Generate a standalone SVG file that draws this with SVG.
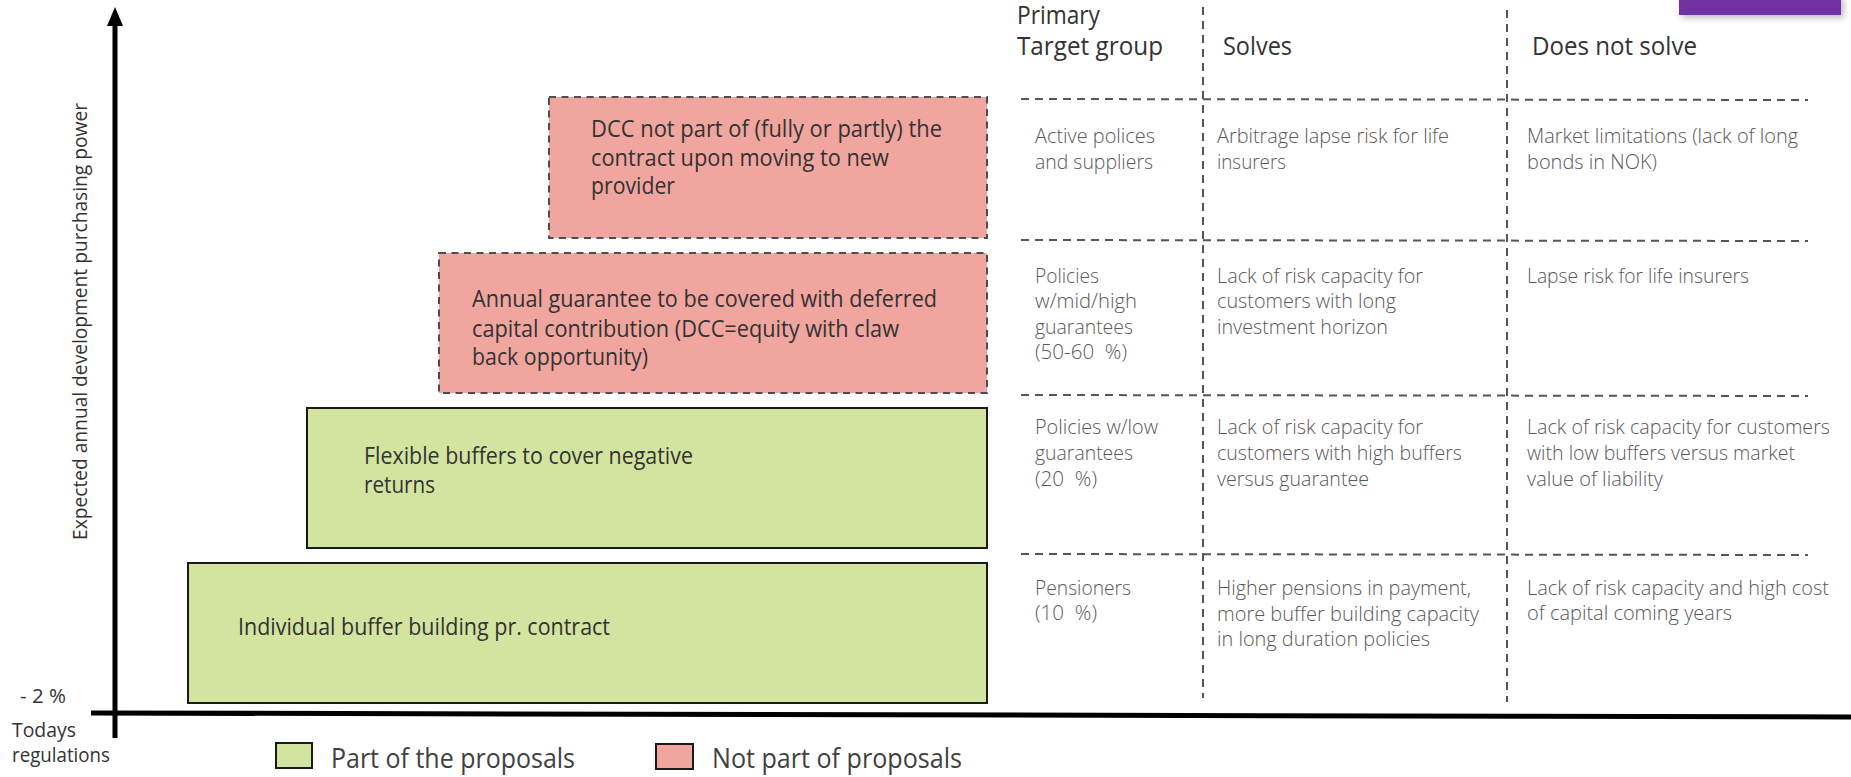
<svg xmlns="http://www.w3.org/2000/svg" width="1851" height="777" viewBox="0 0 1851 777">
  <style>
    .bt { font-family: "Open Sans", "Liberation Sans", sans-serif; font-size: 23px; fill: #333333; }
    .ct { font-family: "Open Sans", "Liberation Sans", sans-serif; font-weight: 300; font-size: 20px; fill: #595959; }
    .hd { font-family: "Open Sans", "Liberation Sans", sans-serif; font-size: 25px; fill: #333333; }
    .ax { font-family: "Open Sans", "Liberation Sans", sans-serif; font-size: 20px; fill: #333333; }
    .lg { font-family: "Open Sans", "Liberation Sans", sans-serif; font-size: 27px; fill: #404040; }
    .pink { fill: #F1A59F; stroke: #4d4d4d; stroke-width: 2; stroke-dasharray: 7 5.5; }
    .green { fill: #D3E4A0; stroke: #1a1a1a; stroke-width: 2; }
    .grid { stroke: #555555; stroke-width: 2; stroke-dasharray: 8 6; fill: none; }
  </style>
  <defs>
    <filter id="shadow" x="-10%" y="-50%" width="130%" height="250%">
      <feDropShadow dx="3" dy="3" stdDeviation="3" flood-color="#000" flood-opacity="0.25"/>
    </filter>
  </defs>

  <rect width="1851" height="777" fill="#ffffff"/>

  <!-- purple tab at top right -->
  <rect x="1679" y="-5" width="162" height="20" fill="#7030A0" filter="url(#shadow)"/>

  <!-- axes -->
  <g id="axes">
    <line x1="115" y1="22" x2="115" y2="738" stroke="#000" stroke-width="5"/>
    <polygon points="115,7 107,26 123,26" fill="#000"/>
    <line x1="91" y1="713" x2="1851" y2="717" stroke="#000" stroke-width="5"/>
    <text class="ax" transform="translate(87,540) rotate(-90)" textLength="437" lengthAdjust="spacingAndGlyphs">Expected annual development purchasing power</text>
    <text class="ax" x="20" y="703" textLength="46" lengthAdjust="spacingAndGlyphs">- 2 %</text>
    <text class="ax" x="12" y="737" textLength="64" lengthAdjust="spacingAndGlyphs">Todays</text>
    <text class="ax" x="12" y="762" textLength="98" lengthAdjust="spacingAndGlyphs">regulations</text>
  </g>

  <!-- measure boxes -->
  <g id="dcc-move">
    <rect class="pink" x="549" y="97" width="438" height="141"/>
    <text class="bt" x="591" y="137" textLength="351" lengthAdjust="spacingAndGlyphs">DCC not part of (fully or partly) the</text>
    <text class="bt" x="591" y="166" textLength="298" lengthAdjust="spacingAndGlyphs">contract upon moving to new</text>
    <text class="bt" x="591" y="194" textLength="84" lengthAdjust="spacingAndGlyphs">provider</text>
  </g>
  <g id="annual-guarantee">
    <rect class="pink" x="439" y="253" width="548" height="140"/>
    <text class="bt" x="472" y="307" textLength="465" lengthAdjust="spacingAndGlyphs">Annual guarantee to be covered with deferred</text>
    <text class="bt" x="472" y="337" textLength="427" lengthAdjust="spacingAndGlyphs">capital contribution (DCC=equity with claw</text>
    <text class="bt" x="472" y="365" textLength="176" lengthAdjust="spacingAndGlyphs">back opportunity)</text>
  </g>
  <g id="flexible-buffers">
    <rect class="green" x="307" y="408" width="680" height="140"/>
    <text class="bt" x="364" y="464" textLength="329" lengthAdjust="spacingAndGlyphs">Flexible buffers to cover negative</text>
    <text class="bt" x="364" y="493" textLength="71" lengthAdjust="spacingAndGlyphs">returns</text>
  </g>
  <g id="individual-buffer">
    <rect class="green" x="188" y="563" width="799" height="140"/>
    <text class="bt" x="238" y="635" textLength="372" lengthAdjust="spacingAndGlyphs">Individual buffer building pr. contract</text>
  </g>

  <!-- table grid -->
  <g id="table-grid">
    <line class="grid" x1="1203" y1="7" x2="1203" y2="698"/>
    <line class="grid" x1="1507" y1="10" x2="1507" y2="702"/>
    <line class="grid" x1="1021" y1="99" x2="1808" y2="100"/>
    <line class="grid" x1="1021" y1="240" x2="1808" y2="241"/>
    <line class="grid" x1="1021" y1="395" x2="1808" y2="396"/>
    <line class="grid" x1="1021" y1="554" x2="1808" y2="555"/>
  </g>

  <!-- table headers -->
  <g id="headers">
    <text class="hd" x="1017" y="24" textLength="83" lengthAdjust="spacingAndGlyphs">Primary</text>
    <text class="hd" x="1017" y="55" textLength="146" lengthAdjust="spacingAndGlyphs">Target group</text>
    <text class="hd" x="1223" y="55" textLength="69" lengthAdjust="spacingAndGlyphs">Solves</text>
    <text class="hd" x="1532" y="55" textLength="165" lengthAdjust="spacingAndGlyphs">Does not solve</text>
  </g>

  <!-- row 1 -->
  <g id="row-1">
    <text class="ct" x="1035" y="143" textLength="120" lengthAdjust="spacingAndGlyphs">Active polices</text>
    <text class="ct" x="1035" y="169" textLength="118" lengthAdjust="spacingAndGlyphs">and suppliers</text>
    <text class="ct" x="1217" y="143" textLength="232" lengthAdjust="spacingAndGlyphs">Arbitrage lapse risk for life</text>
    <text class="ct" x="1217" y="169" textLength="69" lengthAdjust="spacingAndGlyphs">insurers</text>
    <text class="ct" x="1527" y="143" textLength="271" lengthAdjust="spacingAndGlyphs">Market limitations (lack of long</text>
    <text class="ct" x="1527" y="169" textLength="130" lengthAdjust="spacingAndGlyphs">bonds in NOK)</text>
  </g>

  <!-- row 2 -->
  <g id="row-2">
    <text class="ct" x="1035" y="283" textLength="64" lengthAdjust="spacingAndGlyphs">Policies</text>
    <text class="ct" x="1035" y="308" textLength="102" lengthAdjust="spacingAndGlyphs">w/mid/high</text>
    <text class="ct" x="1035" y="334" textLength="98" lengthAdjust="spacingAndGlyphs">guarantees</text>
    <text class="ct" x="1035" y="359" textLength="92" lengthAdjust="spacingAndGlyphs">(50-60&#160; %)</text>
    <text class="ct" x="1217" y="283" textLength="206" lengthAdjust="spacingAndGlyphs">Lack of risk capacity for</text>
    <text class="ct" x="1217" y="308" textLength="179" lengthAdjust="spacingAndGlyphs">customers with long</text>
    <text class="ct" x="1217" y="334" textLength="171" lengthAdjust="spacingAndGlyphs">investment horizon</text>
    <text class="ct" x="1527" y="283" textLength="222" lengthAdjust="spacingAndGlyphs">Lapse risk for life insurers</text>
  </g>

  <!-- row 3 -->
  <g id="row-3">
    <text class="ct" x="1035" y="434" textLength="123" lengthAdjust="spacingAndGlyphs">Policies w/low</text>
    <text class="ct" x="1035" y="460" textLength="98" lengthAdjust="spacingAndGlyphs">guarantees</text>
    <text class="ct" x="1035" y="486" textLength="62" lengthAdjust="spacingAndGlyphs">(20&#160; %)</text>
    <text class="ct" x="1217" y="434" textLength="206" lengthAdjust="spacingAndGlyphs">Lack of risk capacity for</text>
    <text class="ct" x="1217" y="460" textLength="245" lengthAdjust="spacingAndGlyphs">customers with high buffers</text>
    <text class="ct" x="1217" y="486" textLength="152" lengthAdjust="spacingAndGlyphs">versus guarantee</text>
    <text class="ct" x="1527" y="434" textLength="303" lengthAdjust="spacingAndGlyphs">Lack of risk capacity for customers</text>
    <text class="ct" x="1527" y="460" textLength="268" lengthAdjust="spacingAndGlyphs">with low buffers versus market</text>
    <text class="ct" x="1527" y="486" textLength="136" lengthAdjust="spacingAndGlyphs">value of liability</text>
  </g>

  <!-- row 4 -->
  <g id="row-4">
    <text class="ct" x="1035" y="595" textLength="96" lengthAdjust="spacingAndGlyphs">Pensioners</text>
    <text class="ct" x="1035" y="620" textLength="62" lengthAdjust="spacingAndGlyphs">(10&#160; %)</text>
    <text class="ct" x="1217" y="595" textLength="254" lengthAdjust="spacingAndGlyphs">Higher pensions in payment,</text>
    <text class="ct" x="1217" y="621" textLength="262" lengthAdjust="spacingAndGlyphs">more buffer building capacity</text>
    <text class="ct" x="1217" y="646" textLength="213" lengthAdjust="spacingAndGlyphs">in long duration policies</text>
    <text class="ct" x="1527" y="595" textLength="302" lengthAdjust="spacingAndGlyphs">Lack of risk capacity and high cost</text>
    <text class="ct" x="1527" y="620" textLength="205" lengthAdjust="spacingAndGlyphs">of capital coming years</text>
  </g>

  <!-- legend -->
  <g id="legend">
    <rect x="276" y="743" width="36" height="25" fill="#D3E4A0" stroke="#1a1a1a" stroke-width="2"/>
    <text class="lg" x="331" y="768" textLength="244" lengthAdjust="spacingAndGlyphs">Part of the proposals</text>
    <rect x="656" y="744" width="37" height="25" fill="#F1A59F" stroke="#1a1a1a" stroke-width="2"/>
    <text class="lg" x="712" y="768" textLength="250" lengthAdjust="spacingAndGlyphs">Not part of proposals</text>
  </g>
</svg>
